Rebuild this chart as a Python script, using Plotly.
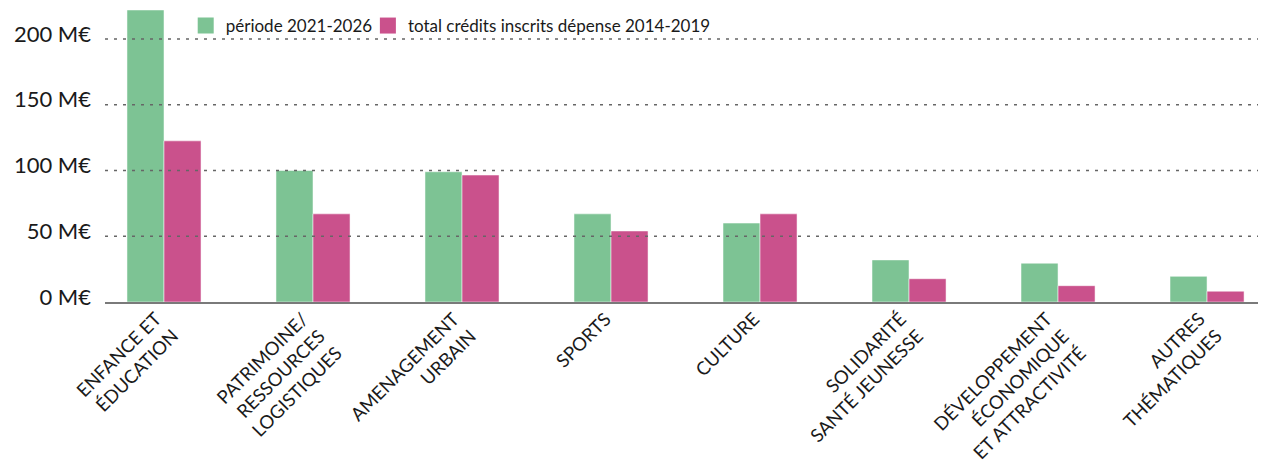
import plotly.graph_objects as go

categories = [
    "ENFANCE ET<br>ÉDUCATION",
    "PATRIMOINE/<br>RESSOURCES<br>LOGISTIQUES",
    "AMENAGEMENT<br>URBAIN",
    "SPORTS",
    "CULTURE",
    "SOLIDARITÉ<br>SANTÉ JEUNESSE",
    "DÉVELOPPEMENT<br>ÉCONOMIQUE<br>ET ATTRACTIVITÉ",
    "AUTRES<br>THÉMATIQUES",
]
periode_2021_2026 = [222, 100, 99, 67, 60, 32, 29.5, 19.5]
credits_2014_2019 = [122.5, 67, 96.5, 54, 67, 17.7, 12.4, 8.2]
tick_values = [0, 50, 100, 150, 200]
tick_labels = ["0 M€", "50 M€", "100 M€", "150 M€", "200 M€"]

GREEN = "#7dc394"
PINK = "#ca518c"
FONT = "Lato"
TXT = "#1a1a1a"
CAT_FS = 18.5

x_idx = list(range(len(categories)))

fig = go.Figure()
fig.add_trace(go.Bar(x=x_idx, y=periode_2021_2026, name="période 2021-2026",
                     marker=dict(color=GREEN, line=dict(color="rgba(255,255,255,0.5)", width=1)),
                     showlegend=False))
fig.add_trace(go.Bar(x=x_idx, y=credits_2014_2019, name="total crédits inscrits dépense 2014-2019",
                     marker=dict(color=PINK, line=dict(color="rgba(255,255,255,0.5)", width=1)),
                     showlegend=False))
# legend entries
fig.add_trace(go.Scatter(x=[None], y=[None], mode="markers", name="période 2021-2026",
                         marker=dict(symbol="square", size=20, color=GREEN), legend="legend"))
fig.add_trace(go.Scatter(x=[None], y=[None], mode="markers",
                         name="total crédits inscrits dépense 2014-2019",
                         marker=dict(symbol="square", size=20, color=PINK), legend="legend2"))

# dotted gridlines drawn above bars
for v in tick_values[1:]:
    fig.add_shape(type="line", xref="paper", yref="y", x0=0, x1=1, y0=v, y1=v,
                  line=dict(color="#666666", width=1.5, dash="3px,6px"), layer="above")

# rotated, right-aligned category labels (first line anchored under the tick)
for i, lab in enumerate(categories):
    n_lines = lab.count("<br>") + 1
    box_h = n_lines * 1.3 * CAT_FS + 2
    fig.add_annotation(x=i, y=0, xref="x", yref="paper", text=lab, showarrow=False,
                       textangle=-45, align="right", xanchor="right", yanchor="top",
                       xshift=0.707 * box_h - 12 - 2.5 * (n_lines - 1), yshift=-3,
                       font=dict(family=FONT, size=CAT_FS, color=TXT))

leg_common = dict(orientation="h", xanchor="left", y=1.0, yanchor="top",
                  font=dict(family=FONT, size=17, color=TXT), bgcolor="rgba(0,0,0,0)",
                  itemsizing="trace")

fig.update_layout(
    width=1261, height=464,
    margin=dict(l=105, r=3, t=8, b=162),
    paper_bgcolor="white", plot_bgcolor="white",
    barmode="group", bargap=0.503, bargroupgap=0,
    font=dict(family=FONT, color=TXT, size=17),
    legend=dict(x=0.07, **leg_common),
    legend2=dict(x=0.228, **leg_common),
    xaxis=dict(tickmode="array", tickvals=x_idx, showticklabels=False,
               range=[-0.396, 7.342], showgrid=False,
               showline=True, linecolor="#7a7a7a", linewidth=2, ticks=""),
    yaxis=dict(range=[0, 223.5], tickmode="array", tickvals=tick_values, ticktext=tick_labels,
               showgrid=False, zeroline=False, showline=False, ticks="",
               ticklabelstandoff=13, ticklabelshift=-5,
               tickfont=dict(family=FONT, size=22, color=TXT)),
)

fig.write_html("out.html")
